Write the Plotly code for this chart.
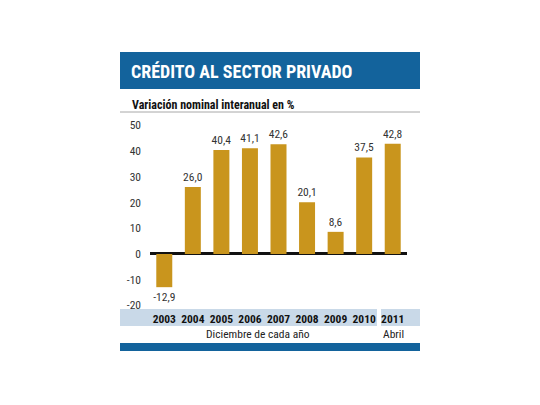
import plotly.graph_objects as go

# ---------- data ----------
years = ["2003", "2004", "2005", "2006", "2007", "2008", "2009", "2010", "2011"]
variacion = [-12.9, 26.0, 40.4, 41.1, 42.6, 20.1, 8.6, 37.5, 42.8]
y_ticks = [-20, -10, 0, 10, 20, 30, 40, 50]

title = "CRÉDITO AL SECTOR PRIVADO"
subtitle = "Variación nominal interanual en %"
note_dic = "Diciembre de cada año"
note_abr = "Abril"

# ---------- styles ----------
W, H = 540, 405
OFF = 8  # the page body adds an 8px margin around the figure
L, T = 150 - OFF, 115 - OFF
R, B = W - (407 - OFF), H - (307 - OFF)
BLUE = "#13639c"
LIGHT = "#c9d9e8"
GOLD = "#c9951d"
FONT = "Roboto, Open Sans, sans-serif"


def cond(s, bold=False):
    # Roboto has a width axis: squeeze it like the condensed newspaper font
    s = f"<b>{s}</b>" if bold else s
    return f"<span style='font-stretch:condensed'>{s}</span>"


# page pixel -> paper fraction
def px(x):
    return (x - OFF - L) / (W - L - R)


def py(y):
    return (H - B - (y - OFF)) / (H - T - B)


fig = go.Figure(go.Bar(
    x=years, y=variacion, width=0.56,
    marker=dict(color=GOLD, line=dict(width=0)),
    text=[cond(f"{v:.1f}".replace(".", ",")) for v in variacion],
    textposition="outside", cliponaxis=False, constraintext="none",
    textfont=dict(family=FONT, size=11.5, color="#333333"),
))

shapes = [
    # header band
    dict(type="rect", xref="paper", yref="paper", x0=px(120), x1=px(420),
         y0=py(89), y1=py(52), fillcolor=BLUE, line_width=0, layer="below"),
    # rule under subtitle
    dict(type="line", xref="paper", yref="paper", x0=px(120), x1=px(420),
         y0=py(112), y1=py(112), line=dict(color="#a8a8a8", width=1)),
    # category bands
    dict(type="rect", xref="paper", yref="paper", x0=px(120), x1=px(377),
         y0=py(326), y1=py(309), fillcolor=LIGHT, line_width=0, layer="below"),
    dict(type="rect", xref="paper", yref="paper", x0=px(381), x1=px(420),
         y0=py(326), y1=py(309), fillcolor=LIGHT, line_width=0, layer="below"),
    # bottom band
    dict(type="rect", xref="paper", yref="paper", x0=px(120), x1=px(420),
         y0=py(351), y1=py(343), fillcolor=BLUE, line_width=0, layer="below"),
]

annotations = [
    dict(text=cond(title, True), xref="paper", yref="paper", x=px(129), y=py(71.5),
         xanchor="left", yanchor="middle", showarrow=False,
         font=dict(family=FONT, size=18, color="white")),
    dict(text=cond(subtitle, True), xref="paper", yref="paper", x=px(130), y=py(104.5),
         xanchor="left", yanchor="middle", showarrow=False,
         font=dict(family=FONT, size=12, color="#111111")),
    dict(text=cond(note_dic), xref="paper", yref="paper", x=px(258), y=py(334),
         xanchor="center", yanchor="middle", showarrow=False,
         font=dict(family=FONT, size=11.5, color="#222222")),
    dict(text=cond(note_abr), xref="paper", yref="paper", x=px(393), y=py(334),
         xanchor="center", yanchor="middle", showarrow=False,
         font=dict(family=FONT, size=11.5, color="#222222")),
]

fig.update_layout(
    width=W, height=H,
    margin=dict(l=L, r=R, t=T, b=B),
    paper_bgcolor="white", plot_bgcolor="white",
    showlegend=False,
    shapes=shapes,
    annotations=annotations,
    xaxis=dict(
        type="category", range=[-0.5, 8.5],
        showgrid=False, showline=False, ticks="", tickangle=0,
        tickvals=years, ticktext=[cond(y, True) for y in years],
        tickfont=dict(family=FONT, size=11.5, color="#111111"),
        ticklabelstandoff=3,
    ),
    yaxis=dict(
        range=[-20.6, 54.0],
        tickvals=y_ticks, ticktext=[cond(str(v)) for v in y_ticks],
        showgrid=False, showline=False, ticks="",
        zeroline=True, zerolinecolor="#111111", zerolinewidth=2.5,
        tickfont=dict(family=FONT, size=11.5, color="#333333"),
        ticklabelstandoff=8,
    ),
)

fig.write_html("out.html")
